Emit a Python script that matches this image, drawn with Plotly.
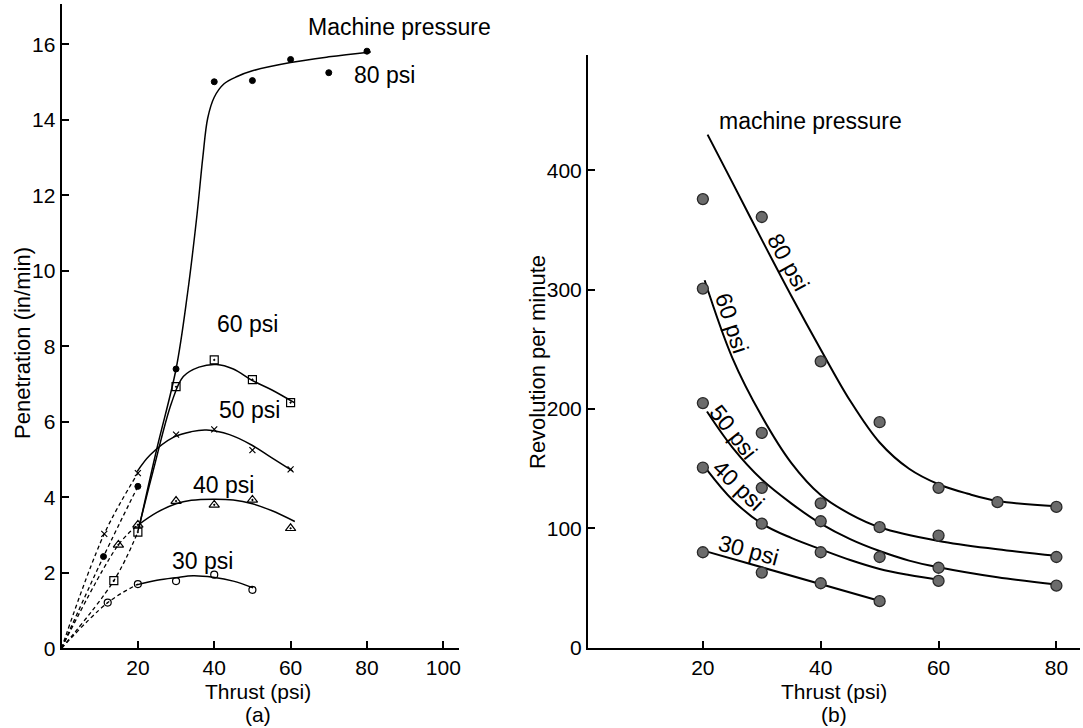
import plotly.graph_objects as go

FONT = "Liberation Sans, Arial, sans-serif"
TXT = 23
TICK = 21

# ---------------- (a) Penetration vs thrust ----------------
# measured points
a80_x = [11, 20, 30, 40, 50, 60, 70, 80]
a80_y = [2.43, 4.29, 7.40, 15.01, 15.04, 15.60, 15.25, 15.82]
a60_x = [13.7, 20, 30, 40, 50, 60]
a60_y = [1.79, 3.08, 6.93, 7.64, 7.12, 6.51]
a50_x = [11.2, 20, 30, 40, 50, 60]
a50_y = [3.03, 4.64, 5.66, 5.80, 5.25, 4.74]
a40_x = [14.9, 20, 30, 40, 50, 60]
a40_y = [2.74, 3.27, 3.90, 3.80, 3.93, 3.18]
a30_x = [12.1, 20, 30, 40, 50]
a30_y = [1.21, 1.70, 1.78, 1.95, 1.55]

# fitted solid curves
fa80_x = [20.3, 25, 30, 33, 35.5, 37, 38.3, 40, 42.5, 46, 50, 60, 70, 81]
fa80_y = [3.2, 5.3, 7.4, 9.4, 11.5, 13.0, 14.05, 14.6, 14.95, 15.15, 15.3, 15.52, 15.67, 15.8]
fa60_x = [20, 24, 28.8, 31.9, 36, 40.6, 45, 49.9, 55, 61.1]
fa60_y = [3.1, 4.7, 6.5, 7.2, 7.45, 7.52, 7.4, 7.1, 6.85, 6.5]
fa50_x = [19.8, 23.2, 29.5, 34, 38, 44, 49.9, 55, 60.5]
fa50_y = [4.68, 5.12, 5.6, 5.74, 5.78, 5.66, 5.38, 5.05, 4.7]
fa40_x = [20.1, 25, 30, 34, 39.7, 45, 50, 55, 61.1]
fa40_y = [3.27, 3.6, 3.83, 3.92, 3.95, 3.93, 3.83, 3.65, 3.36]
fa30_x = [19.7, 25, 30, 34.5, 39.7, 45, 50.2]
fa30_y = [1.68, 1.8, 1.87, 1.92, 1.88, 1.78, 1.6]

# dashed lines from origin
d80_x = [0, 11, 20]
d80_y = [0, 2.43, 4.29]
d60_x = [0, 13.7, 20]
d60_y = [0, 1.79, 3.08]
d50_x = [0, 11.2, 20]
d50_y = [0, 3.03, 4.64]
d40_x = [0, 14.9, 20]
d40_y = [0, 2.74, 3.27]
d30_x = [0, 12.1, 20]
d30_y = [0, 1.21, 1.70]

# ---------------- (b) RPM vs thrust ----------------
b80_x = [20, 30, 40, 50, 60, 70, 80]
b80_y = [376, 361, 240, 189, 134, 122, 118]
b60_x = [20, 30, 40, 50, 60, 80]
b60_y = [301, 180, 121, 101, 94, 76]
b50_x = [20, 30, 40, 50, 60, 80]
b50_y = [205, 134, 106, 76, 67, 52]
b40_x = [20, 30, 40, 60]
b40_y = [151, 104, 80, 56]
b30_x = [20, 30, 40, 50]
b30_y = [80, 63, 54, 39]

fb80_x = [20.8, 25, 30, 35, 40, 45, 50, 55, 60, 65, 70, 80]
fb80_y = [430, 390, 342, 295, 250, 207, 172, 150, 137, 129, 123, 118.5]
fb60_x = [20.3, 25, 30, 35, 40, 45, 50, 60, 70, 80]
fb60_y = [308, 243, 194, 155, 128, 112, 101, 89.5, 82.5, 77]
fb50_x = [20.7, 25, 30, 35, 40, 45, 50, 55, 60, 70, 80]
fb50_y = [198, 168, 141, 121, 104, 91, 81, 73, 67.4, 59, 53]
fb40_x = [20.7, 25, 30, 35, 40, 45, 50, 55, 60]
fb40_y = [149, 124, 104, 92, 82.5, 73.5, 66, 61, 57]
fb30_x = [20.7, 49.9]
fb30_y = [80.5, 39.4]

fig = go.Figure()

def line(x, y, xa, ya, dash="solid", w=1.5, shape="spline"):
    fig.add_trace(go.Scatter(x=x, y=y, mode="lines", xaxis=xa, yaxis=ya,
                             line=dict(color="black", width=w, dash=dash, shape=shape, smoothing=1.0),
                             showlegend=False, hoverinfo="skip"))

def pts(x, y, xa, ya, symbol, size, color="black", lw=1, lc="black"):
    fig.add_trace(go.Scatter(x=x, y=y, mode="markers", xaxis=xa, yaxis=ya,
                             marker=dict(symbol=symbol, size=size, color=color,
                                         line=dict(width=lw, color=lc)),
                             showlegend=False))

# (a) dashed
for dx, dy in [(d80_x, d80_y), (d60_x, d60_y), (d50_x, d50_y), (d40_x, d40_y), (d30_x, d30_y)]:
    line(dx, dy, "x", "y", dash="4px,3px", w=1.3)
# (a) solid curves
for fx, fy in [(fa80_x, fa80_y), (fa60_x, fa60_y), (fa50_x, fa50_y), (fa40_x, fa40_y), (fa30_x, fa30_y)]:
    line(fx, fy, "x", "y", w=1.5)
# (a) markers
pts(a80_x, a80_y, "x", "y", "circle", 6)
pts(a60_x, a60_y, "x", "y", "square-open-dot", 8, lw=1.2)
pts(a50_x, a50_y, "x", "y", "x-thin", 6, lw=1.2)
pts(a40_x, a40_y, "x", "y", "triangle-up-open-dot", 9, lw=1.2)
pts(a30_x, a30_y, "x", "y", "circle-open", 7, lw=1.2)

# (b) curves
for fx, fy in [(fb80_x, fb80_y), (fb60_x, fb60_y), (fb50_x, fb50_y), (fb40_x, fb40_y), (fb30_x, fb30_y)]:
    line(fx, fy, "x2", "y2", w=2)
for bx, by in [(b80_x, b80_y), (b60_x, b60_y), (b50_x, b50_y), (b40_x, b40_y), (b30_x, b30_y)]:
    pts(bx, by, "x2", "y2", "circle", 11, color="#6b6b6b", lw=1.3, lc="#2a2a2a")

axis_common = dict(showline=True, linecolor="black", linewidth=2, ticks="inside",
                   ticklen=7, tickwidth=2, tickcolor="black", showgrid=False, zeroline=False,
                   automargin=False,
                   tickfont=dict(family=FONT, size=TICK, color="black"))

fig.update_layout(
    width=1083, height=728,
    margin=dict(l=0, r=0, t=0, b=0, autoexpand=False),
    paper_bgcolor="white", plot_bgcolor="white",
    font=dict(family=FONT, size=TXT, color="black"),
    xaxis=dict(domain=[0.0568, 0.4238], range=[0, 104.1], tickvals=[20, 40, 60, 80, 100],
               anchor="y", **axis_common),
    yaxis=dict(domain=[0.1095, 0.9945], range=[0, 17.07], tickvals=list(range(0, 17, 2)),
               anchor="x", **axis_common),
    xaxis2=dict(domain=[0.5429, 0.9972], range=[0.5, 84.0], tickvals=[20, 40, 60, 80],
                anchor="y2", **axis_common),
    yaxis2=dict(domain=[0.1103, 0.9245], range=[0, 496.8], tickvals=[0, 100, 200, 300, 400],
                anchor="x2", **axis_common),
)

ann = []
def txt(x, y, s, xref="x", yref="y", angle=0, size=TXT):
    ann.append(dict(x=x, y=y, xref=xref, yref=yref, text=s, showarrow=False,
                    xanchor="center", yanchor="middle", borderpad=0,
                    textangle=angle, font=dict(family=FONT, size=size, color="black")))

# (a) labels
txt(88.6, 16.46, "Machine pressure")
txt(84.5, 15.19, "80 psi")
txt(48.8, 8.59, "60 psi")
txt(49.3, 6.31, "50 psi")
txt(42.5, 4.33, "40 psi")
txt(37.0, 2.31, "30 psi")
# (b) labels
txt(38.3, 441.5, "machine pressure", "x2", "y2")
txt(34.5, 323.5, "80 psi", "x2", "y2", angle=61)
txt(24.9, 272, "60 psi", "x2", "y2", angle=72)
txt(25.2, 181, "50 psi", "x2", "y2", angle=52)
txt(26.0, 136.4, "40 psi", "x2", "y2", angle=44)
txt(27.7, 82, "30 psi", "x2", "y2", angle=15)

# axis titles
txt(258 / 1083, 1 - 691 / 728, "Thrust (psi)", "paper", "paper", size=21)
txt(258 / 1083, 1 - 714 / 728, "(a)", "paper", "paper", size=21)
txt(834 / 1083, 1 - 691 / 728, "Thrust (psi)", "paper", "paper", size=21)
txt(834 / 1083, 1 - 714 / 728, "(b)", "paper", "paper", size=21)
txt(22 / 1083, 1 - 343 / 728, "Penetration (in/min)", "paper", "paper", angle=-90, size=22)
txt(537 / 1083, 1 - 362 / 728, "Revolution per minute", "paper", "paper", angle=-90, size=22)

fig.update_layout(annotations=ann)
fig.write_html("out.html")
